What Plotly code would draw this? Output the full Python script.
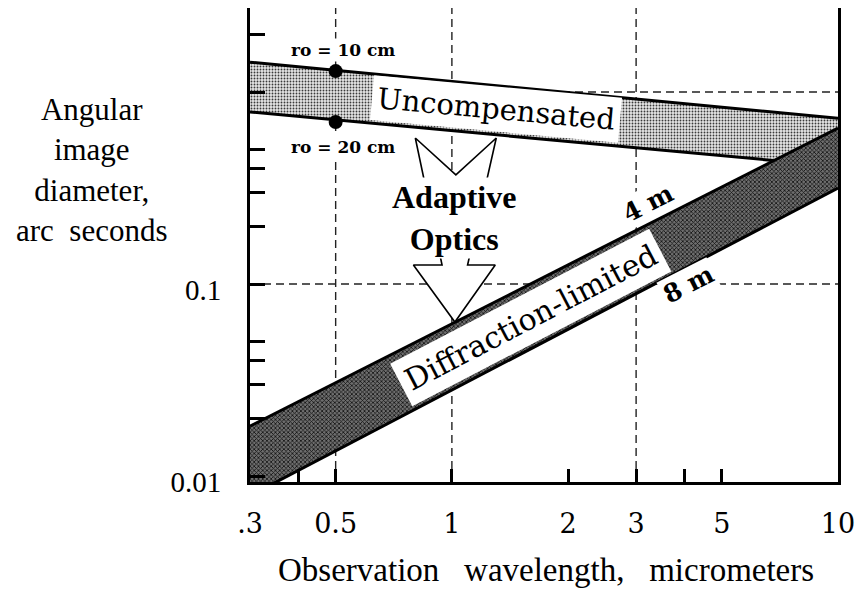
import math
import plotly.graph_objects as go

# ---------------- data ----------------
lam_ends = [0.3, 10.0]                 # wavelength end points, micrometers
seeing_r0_10cm = [1.43, 0.73]          # arc seconds at lam_ends
seeing_r0_20cm = [0.787, 0.41]         # arc seconds at lam_ends
seeing_cross_lam = 6.8                 # where r0=20 cm line meets 4 m line
seeing_cross_val = 0.44
diff_4m = [0.0182, 0.649]              # diffraction limit, 4 m telescope
diff_8m = [0.0079, 0.316]              # diffraction limit, 8 m telescope
dot_lam = [0.5, 0.5]
dot_vals = [1.285, 0.698]

x_tickvals = [0.3, 0.5, 1, 2, 3, 5, 10]
x_ticktext = [".3", "0.5", "1", "2", "3", "5", "10"]
x_minor = [0.4, 4]
y_tickvals = [0.01, 0.1]
y_ticktext = ["0.01", "0.1"]
y_minor = [0.02, 0.03, 0.04, 0.05, 0.2, 0.3, 0.4, 0.5, 1, 2]
x_grid = [0.5, 1, 3]
y_grid = [0.1, 1]

# hollow "adaptive optics" arrow outline (wavelength, arcsec)
arrow_lam = [0.804, 0.943, 0.795, 1.018, 1.295, 1.098, 1.303, 1.024, 0.804]
arrow_val = [0.576, 0.1256, 0.1256, 0.0634, 0.1256, 0.1256, 0.576, 0.370, 0.576]

XR = [math.log10(0.3), 1.0]
YR = [-2.031, 0.4375]
ymin, ymax = 10 ** YR[0], 10 ** YR[1]
xmin, xmax = 10 ** XR[0], 10 ** XR[1]

fig = go.Figure()

# dashed grid
for gx in x_grid:
    fig.add_trace(go.Scatter(x=[gx, gx], y=[ymin, ymax], mode="lines",
                             line=dict(color="#222", width=1.4, dash="8px,5px"),
                             hoverinfo="skip", showlegend=False))
for gy in y_grid:
    fig.add_trace(go.Scatter(x=[xmin, xmax], y=[gy, gy], mode="lines",
                             line=dict(color="#222", width=1.4, dash="8px,5px"),
                             hoverinfo="skip", showlegend=False))

# uncompensated (seeing) band
light_x = [lam_ends[0], lam_ends[1], lam_ends[1], seeing_cross_lam, lam_ends[0]]
light_y = [seeing_r0_10cm[0], seeing_r0_10cm[1], diff_4m[1], seeing_cross_val, seeing_r0_20cm[0]]
fig.add_trace(go.Scatter(x=light_x, y=light_y, mode="none", fill="toself",
                         fillcolor="#e4e4e4", hoverinfo="skip", showlegend=False))
fig.add_trace(go.Scatter(x=light_x, y=light_y, mode="none", fill="toself",
                         fillcolor="rgba(0,0,0,0)",
                         fillpattern=dict(shape=".", fgcolor="#3a3a3a", size=3,
                                          solidity=0.3, fillmode="replace"),
                         hoverinfo="skip", showlegend=False))

# diffraction-limited band
dark_x = [lam_ends[0], lam_ends[1], lam_ends[1], lam_ends[0]]
dark_y = [diff_4m[0], diff_4m[1], diff_8m[1], diff_8m[0]]
fig.add_trace(go.Scatter(x=dark_x, y=dark_y, mode="none", fill="toself",
                         fillcolor="#6e6e6e", hoverinfo="skip", showlegend=False))
fig.add_trace(go.Scatter(x=dark_x, y=dark_y, mode="none", fill="toself",
                         fillcolor="rgba(0,0,0,0)",
                         fillpattern=dict(shape="x", fgcolor="#111", size=3,
                                          solidity=0.45, fillmode="replace"),
                         hoverinfo="skip", showlegend=False))

# band edge lines
edge = dict(color="black", width=3)
fig.add_trace(go.Scatter(x=lam_ends, y=seeing_r0_10cm, mode="lines", line=edge,
                         hoverinfo="skip", showlegend=False))
fig.add_trace(go.Scatter(x=[lam_ends[0], seeing_cross_lam],
                         y=[seeing_r0_20cm[0], seeing_cross_val], mode="lines", line=edge,
                         hoverinfo="skip", showlegend=False))
fig.add_trace(go.Scatter(x=lam_ends, y=diff_4m, mode="lines", line=edge,
                         hoverinfo="skip", showlegend=False))
fig.add_trace(go.Scatter(x=lam_ends, y=diff_8m, mode="lines", line=edge,
                         hoverinfo="skip", showlegend=False))

# hollow arrow
fig.add_trace(go.Scatter(x=arrow_lam, y=arrow_val, mode="lines", fill="toself",
                         fillcolor="white", line=dict(color="black", width=1.6),
                         hoverinfo="skip", showlegend=False))

# r0 dots
fig.add_trace(go.Scatter(x=dot_lam, y=dot_vals, mode="markers",
                         marker=dict(color="black", size=14),
                         hoverinfo="skip", showlegend=False))

serif_w = "DejaVu Serif"
annos = [
    dict(text="<b>ro = 10 cm</b>", x=-0.281, y=0.219, font=dict(family=serif_w, size=17),
         bgcolor="white", borderpad=1),
    dict(text="<b>ro = 20 cm</b>", x=-0.283, y=-0.286, font=dict(family=serif_w, size=17),
         bgcolor="white", borderpad=1),
    dict(text="Uncompensated", x=0.115, y=-0.0885, textangle=5.2,
         font=dict(family=serif_w, size=29), bgcolor="white", borderpad=5),
    dict(text="<b>Adaptive<br>Optics</b>", x=0.005, y=-0.656,
         font=dict(family="Liberation Serif", size=32), bgcolor="white", borderpad=1),
    dict(text="Diffraction-limited", x=0.204, y=-1.172, textangle=-27.5,
         font=dict(family=serif_w, size=30), bgcolor="white", borderpad=6),
    dict(text="<b>4 m</b>", x=0.508, y=-0.583, textangle=-27,
         font=dict(family=serif_w, size=25), bgcolor="white", borderpad=1),
    dict(text="<b>8 m</b>", x=0.612, y=-1.0, textangle=-27,
         font=dict(family=serif_w, size=25), bgcolor="white", borderpad=1),
]
for a in annos:
    fig.add_annotation(xref="x", yref="y", showarrow=False, xanchor="center",
                       yanchor="middle", font_color="black", **a)

# axis titles
fig.add_annotation(xref="paper", yref="paper", x=-0.269, y=0.658, showarrow=False,
                   text="Angular<br>image<br>diameter,<br>arc  seconds", align="center",
                   font=dict(family="Liberation Serif", size=31, color="black"),
                   xanchor="center", yanchor="middle")
fig.add_annotation(xref="paper", yref="paper", x=0.504, y=-0.186, showarrow=False,
                   text="Observation   wavelength,   micrometers",
                   font=dict(family="Liberation Serif", size=33, color="black"),
                   xanchor="center", yanchor="middle")

fig.update_xaxes(type="log", range=XR, showgrid=False, zeroline=False,
                 showline=True, linecolor="black", linewidth=3,
                 tickmode="array", tickvals=x_tickvals, ticktext=x_ticktext,
                 ticks="inside", ticklen=13, tickwidth=2.5, tickcolor="black",
                 tickfont=dict(family="DejaVu Serif", size=27, color="black"),
                 ticklabelstandoff=16,
                 minor=dict(tickmode="array", tickvals=x_minor, ticks="inside",
                            ticklen=13, tickwidth=2.5, tickcolor="black", showgrid=False))
fig.update_yaxes(type="log", range=YR, showgrid=False, zeroline=False,
                 showline=True, linecolor="black", linewidth=3, mirror=True,
                 tickmode="array", tickvals=y_tickvals, ticktext=y_ticktext,
                 ticks="inside", ticklen=15, tickwidth=2.5, tickcolor="black",
                 tickfont=dict(family="Liberation Serif", size=29, color="black"),
                 ticklabelstandoff=20, ticklabelshift=6,
                 minor=dict(tickmode="array", tickvals=y_minor, ticks="inside",
                            ticklen=15, tickwidth=2.5, tickcolor="black", showgrid=False))

fig.update_layout(width=863, height=590, margin=dict(l=250, r=18, t=8, b=108),
                  plot_bgcolor="white", paper_bgcolor="white", showlegend=False)

fig.write_html("out.html")
